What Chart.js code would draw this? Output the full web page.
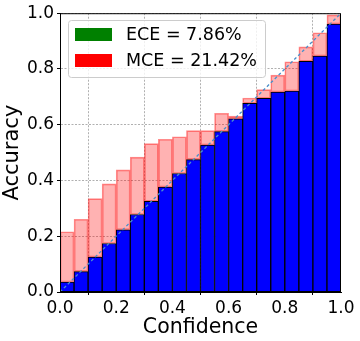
<!DOCTYPE html>
<html>
<head>
<meta charset="utf-8">
<script src="https://cdn.jsdelivr.net/npm/chart.js@4.4.1/dist/chart.umd.min.js"></script>
<style>
  html, body { margin: 0; padding: 0; background: #fff; }
  #wrap { width: 360px; height: 341px; }
</style>
</head>
<body>
<div id="wrap"><canvas id="chart" width="360" height="341"></canvas></div>
<script>
// bin centres (20 bins of width 0.05)
const binCenters = [0.025, 0.075, 0.125, 0.175, 0.225, 0.275, 0.325, 0.375, 0.425, 0.475,
                    0.525, 0.575, 0.625, 0.675, 0.725, 0.775, 0.825, 0.875, 0.925, 0.975];
// accuracy per bin (blue)
const accuracy = [0.036, 0.073, 0.125, 0.174, 0.223, 0.278, 0.325, 0.376, 0.425, 0.475,
                  0.527, 0.575, 0.621, 0.677, 0.695, 0.717, 0.721, 0.827, 0.846, 0.961];
// top of the gap bars (red)
const gapTop = [0.216, 0.261, 0.335, 0.388, 0.438, 0.484, 0.532, 0.548, 0.557, 0.579,
                0.579, 0.641, 0.631, 0.696, 0.726, 0.778, 0.826, 0.879, 0.930, 0.994];
const tickValues = [0, 0.2, 0.4, 0.6, 0.8, 1.0];
const tickLabels = ["0.0", "0.2", "0.4", "0.6", "0.8", "1.0"];
const legendItems = [
  { text: "ECE = 7.86%", color: "#008000" },
  { text: "MCE = 21.42%", color: "#ff0000" },
];

const FONT = "DejaVu Sans";
Chart.defaults.font.family = FONT;
Chart.defaults.color = "#000000";

const tickText = (value) => {
  const i = tickValues.findIndex((t) => Math.abs(t - value) < 1e-6);
  return i >= 0 ? tickLabels[i] : "";
};

// frame around the plot + legend box inside the axes
const framePlugin = {
  id: "frame",
  afterDatasetsDraw(chart) {
    const { ctx, chartArea: ca } = chart;
    ctx.save();
    ctx.strokeStyle = "#000000";
    ctx.lineWidth = 1;
    ctx.strokeRect(ca.left + 0.5, ca.top + 0.5, ca.right - ca.left - 1, ca.bottom - ca.top - 1);

    // legend
    const bx = 68, by = 20, bw = 197, bh = 57;
    ctx.fillStyle = "rgba(255,255,255,0.8)";
    ctx.strokeStyle = "#cccccc";
    ctx.beginPath();
    ctx.roundRect(bx + 0.5, by + 0.5, bw, bh, 3);
    ctx.fill();
    ctx.stroke();
    ctx.font = "17.5px " + FONT;
    ctx.textBaseline = "middle";
    legendItems.forEach((item, i) => {
      const y = by + 8 + i * 26;
      ctx.fillStyle = item.color;
      ctx.fillRect(bx + 7, y, 37, 13);
      ctx.fillStyle = "#000000";
      ctx.fillText(item.text, bx + 58, y + 7);
    });
    ctx.restore();
  },
};

const gridStyle = {
  color: "#b0b0b0",
  lineWidth: 1,
  drawTicks: true,
  tickLength: 3,
  tickColor: "#000000",
  tickWidth: 1,
  tickBorderDash: [],
};

new Chart(document.getElementById("chart").getContext("2d"), {
  type: "bar",
  data: {
    datasets: [
      {
        type: "line",
        data: [{ x: 0, y: 0 }, { x: 1, y: 1 }],
        borderColor: "#4a8fca",
        borderWidth: 1.3,
        borderDash: [3, 2.5],
        pointRadius: 0,
        order: 0,
      },
      {
        label: "Accuracy",
        data: binCenters.map((x, i) => ({ x, y: accuracy[i] })),
        backgroundColor: "#0000ff",
        borderColor: "#000000",
        borderWidth: 1,
        grouped: false,
        barPercentage: 1,
        categoryPercentage: 1,
        order: 1,
      },
      {
        label: "Gap",
        data: binCenters.map((x, i) => ({ x, y: [accuracy[i], gapTop[i]] })),
        backgroundColor: "rgba(255,0,0,0.3)",
        borderColor: "rgba(255,0,0,0.45)",
        borderWidth: 1,
        borderSkipped: false,
        grouped: false,
        barPercentage: 1,
        categoryPercentage: 1,
        order: 2,
      },
    ],
  },
  options: {
    responsive: false,
    animation: false,
    layout: { padding: { top: 0, right: 19, left: 0, bottom: 0 } },
    plugins: { legend: { display: false }, tooltip: { enabled: false } },
    scales: {
      x: {
        type: "linear",
        min: 0,
        max: 1,
        offset: false,
        afterBuildTicks: (scale) => { scale.ticks = tickValues.map((v) => ({ value: v })); },
        afterFit: (scale) => { scale.height = 49; },
        ticks: {
          callback: tickText,
          font: { size: 17 },
          color: "#000000",
          padding: 3,
          maxRotation: 0,
        },
        grid: gridStyle,
        border: { color: "#000000", dash: [2, 1.5] },
        title: {
          display: true,
          text: "Confidence",
          font: { size: 20.5 },
          color: "#000000",
          padding: { top: 0, bottom: 1 },
        },
      },
      y: {
        type: "linear",
        min: 0,
        max: 1,
        afterBuildTicks: (scale) => { scale.ticks = tickValues.map((v) => ({ value: v })); },
        afterFit: (scale) => { scale.width = 60; },
        ticks: {
          callback: tickText,
          font: { size: 17 },
          color: "#000000",
          padding: 3,
        },
        grid: gridStyle,
        border: { color: "#000000", dash: [2, 1.5] },
        title: {
          display: true,
          text: "Accuracy",
          font: { size: 21 },
          color: "#000000",
          padding: { top: 0, bottom: 0 },
        },
      },
    },
  },
  plugins: [framePlugin],
});
</script>
</body>
</html>
